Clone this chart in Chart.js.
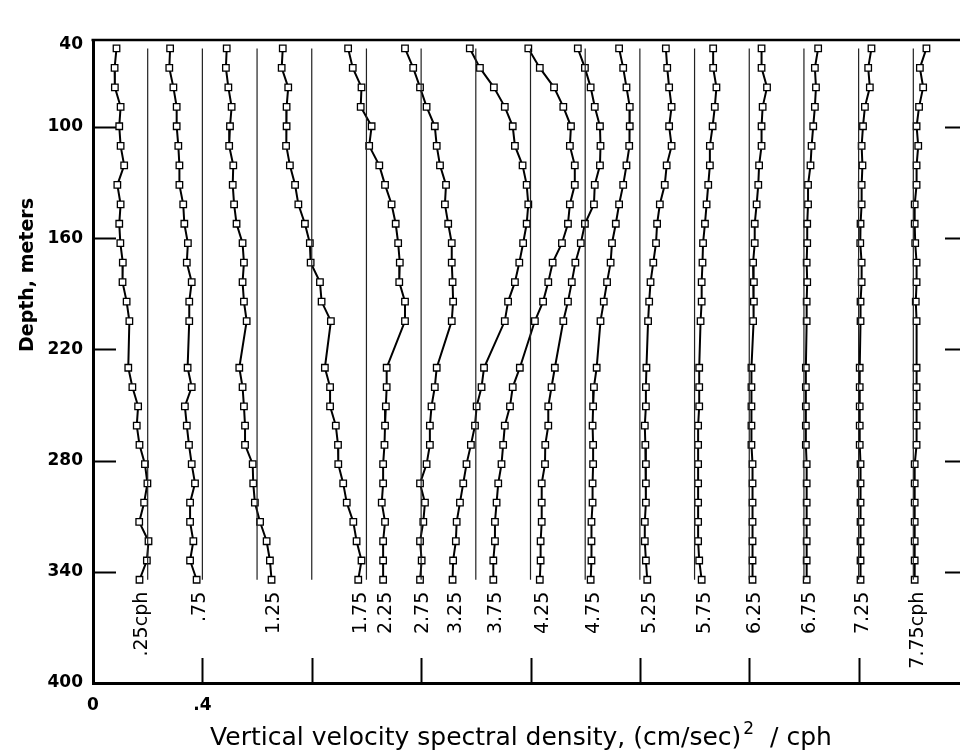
<!DOCTYPE html>
<html>
<head>
<meta charset="utf-8">
<script src="https://cdn.jsdelivr.net/npm/chart.js@4.4.1/dist/chart.umd.min.js"></script>
<style>
  html, body { margin: 0; padding: 0; background: #fff; overflow: hidden; }
  #wrap { width: 980px; height: 750px; }
</style>
</head>
<body>
<div id="wrap"><canvas id="chart" width="980" height="750"></canvas></div>
<script>
// depth of each sample (m), same for every profile
const depths = [57.6, 68.1, 78.6, 89.1, 99.6, 110.2, 120.7, 131.2, 141.7, 152.2, 162.7, 173.2, 183.7, 194.2, 204.7,
  229.9, 240.3, 250.7, 261.1, 271.5, 281.9, 292.3, 302.7, 313.1, 323.5, 333.9, 344.3];

// each profile is drawn shifted right by its own offset
const offsets = [0, 0.2, 0.4, 0.6, 0.8, 1.0, 1.2, 1.4, 1.6, 1.8, 2.0, 2.2, 2.4, 2.6, 2.8, 3.0];
const profileLabels = ['.25cph', '.75', '1.25', '1.75', '2.25', '2.75', '3.25', '3.75',
  '4.25', '4.75', '5.25', '5.75', '6.25', '6.75', '7.25', '7.75cph'];

const s025 = [0.086, 0.079, 0.080, 0.101, 0.096, 0.101, 0.114, 0.089, 0.101, 0.096, 0.100, 0.109, 0.108, 0.123, 0.133, 0.129, 0.144, 0.165, 0.160, 0.170, 0.190, 0.199, 0.187, 0.169, 0.203, 0.197, 0.170];
const s075 = [0.082, 0.079, 0.094, 0.106, 0.106, 0.112, 0.116, 0.116, 0.130, 0.134, 0.147, 0.143, 0.161, 0.152, 0.152, 0.146, 0.161, 0.136, 0.143, 0.151, 0.161, 0.173, 0.155, 0.155, 0.167, 0.155, 0.179];
const s125 = [0.089, 0.086, 0.095, 0.107, 0.101, 0.098, 0.113, 0.111, 0.116, 0.125, 0.147, 0.152, 0.147, 0.152, 0.162, 0.135, 0.147, 0.152, 0.156, 0.156, 0.184, 0.186, 0.192, 0.211, 0.235, 0.247, 0.253];
const s175 = [0.094, 0.090, 0.114, 0.108, 0.108, 0.106, 0.120, 0.139, 0.151, 0.175, 0.193, 0.196, 0.230, 0.236, 0.270, 0.248, 0.267, 0.267, 0.288, 0.296, 0.297, 0.315, 0.328, 0.352, 0.364, 0.382, 0.370];
const s225 = [0.133, 0.150, 0.182, 0.179, 0.219, 0.210, 0.247, 0.268, 0.292, 0.307, 0.316, 0.322, 0.320, 0.341, 0.341, 0.274, 0.274, 0.271, 0.268, 0.266, 0.261, 0.261, 0.256, 0.268, 0.261, 0.261, 0.261];
const s275 = [0.141, 0.171, 0.196, 0.220, 0.250, 0.257, 0.269, 0.291, 0.287, 0.299, 0.312, 0.312, 0.315, 0.317, 0.312, 0.257, 0.250, 0.238, 0.232, 0.232, 0.220, 0.196, 0.214, 0.208, 0.196, 0.202, 0.196];
const s325 = [0.178, 0.215, 0.266, 0.306, 0.335, 0.343, 0.371, 0.386, 0.392, 0.386, 0.373, 0.359, 0.343, 0.318, 0.306, 0.230, 0.221, 0.203, 0.197, 0.182, 0.166, 0.154, 0.142, 0.130, 0.127, 0.117, 0.115];
const s375 = [0.192, 0.234, 0.286, 0.320, 0.348, 0.344, 0.362, 0.362, 0.344, 0.337, 0.315, 0.281, 0.265, 0.246, 0.216, 0.161, 0.135, 0.125, 0.106, 0.100, 0.094, 0.082, 0.076, 0.070, 0.070, 0.064, 0.064];
const s425 = [0.173, 0.199, 0.220, 0.235, 0.254, 0.256, 0.254, 0.235, 0.232, 0.199, 0.184, 0.164, 0.151, 0.137, 0.120, 0.089, 0.077, 0.065, 0.065, 0.054, 0.053, 0.041, 0.041, 0.041, 0.037, 0.037, 0.034];
const s475 = [0.124, 0.139, 0.151, 0.163, 0.163, 0.161, 0.151, 0.139, 0.124, 0.112, 0.098, 0.093, 0.080, 0.068, 0.056, 0.042, 0.032, 0.029, 0.027, 0.029, 0.029, 0.027, 0.027, 0.023, 0.023, 0.023, 0.020];
const s525 = [0.095, 0.100, 0.107, 0.116, 0.107, 0.116, 0.098, 0.091, 0.073, 0.063, 0.059, 0.049, 0.039, 0.034, 0.030, 0.024, 0.022, 0.022, 0.018, 0.020, 0.022, 0.022, 0.022, 0.018, 0.018, 0.022, 0.027];
const s575 = [0.068, 0.068, 0.080, 0.074, 0.066, 0.056, 0.056, 0.050, 0.044, 0.038, 0.031, 0.029, 0.026, 0.026, 0.022, 0.017, 0.017, 0.017, 0.013, 0.013, 0.013, 0.013, 0.013, 0.013, 0.013, 0.017, 0.026];
const s625 = [0.045, 0.045, 0.065, 0.049, 0.045, 0.045, 0.036, 0.033, 0.027, 0.020, 0.020, 0.014, 0.017, 0.017, 0.014, 0.008, 0.008, 0.008, 0.008, 0.008, 0.012, 0.012, 0.012, 0.012, 0.012, 0.012, 0.012];
const s675 = [0.052, 0.040, 0.044, 0.040, 0.034, 0.028, 0.024, 0.015, 0.015, 0.012, 0.012, 0.010, 0.012, 0.010, 0.010, 0.007, 0.007, 0.007, 0.007, 0.007, 0.010, 0.010, 0.010, 0.010, 0.010, 0.010, 0.010];
const s725 = [0.047, 0.035, 0.041, 0.023, 0.016, 0.011, 0.014, 0.011, 0.011, 0.007, 0.006, 0.011, 0.011, 0.007, 0.007, 0.004, 0.004, 0.004, 0.004, 0.004, 0.007, 0.007, 0.007, 0.007, 0.007, 0.007, 0.007];
const s775 = [0.048, 0.024, 0.036, 0.021, 0.012, 0.018, 0.012, 0.012, 0.005, 0.005, 0.007, 0.012, 0.012, 0.009, 0.012, 0.012, 0.012, 0.012, 0.012, 0.012, 0.005, 0.005, 0.005, 0.005, 0.005, 0.005, 0.005];

const profiles = [s025, s075, s125, s175, s225, s275, s325, s375, s425, s475, s525, s575, s625, s675, s725, s775];

// axis ticks
const yTickValues = [55.7, 100, 160, 220, 280, 340, 400];
const yTickLabels = ['40', '100', '160', '220', '280', '340', '400'];
const yTickMarks = [100, 160, 220, 280, 340];
const xTickValues = [0, 0.4];
const xTickLabels = ['0', '.4'];
const xTickMarks = [0.4, 0.8, 1.2, 1.6, 2.0, 2.4, 2.8];

const datasets = [];

// zero line of every shifted profile
for (let i = 1; i < offsets.length; i++) {
  datasets.push({
    data: [{ x: offsets[i], y: depths[0] }, { x: offsets[i], y: depths[depths.length - 1] }],
    borderColor: '#222',
    borderWidth: 1.2,
    pointRadius: 0,
    showLine: true
  });
}

profiles.forEach((vals, i) => {
  datasets.push({
    label: profileLabels[i],
    data: vals.map((v, k) => ({ x: offsets[i] + v, y: depths[k] })),
    borderColor: '#000',
    borderWidth: 2,
    showLine: true,
    tension: 0,
    pointStyle: 'rect',
    pointRadius: 4.6,
    pointBackgroundColor: '#fff',
    pointBorderColor: '#000',
    pointBorderWidth: 1.3
  });
});

const decor = {
  id: 'decor',
  afterDraw(chart) {
    const { ctx, chartArea: a, scales: { x, y } } = chart;
    ctx.save();
    ctx.strokeStyle = '#000';
    ctx.lineWidth = 2.5;
    ctx.beginPath();
    ctx.moveTo(a.left - 1.5, a.top);
    ctx.lineTo(a.right, a.top);
    ctx.stroke();

    ctx.lineWidth = 2;
    yTickMarks.forEach(v => {
      const py = Math.round(y.getPixelForValue(v)) + 0.5;
      ctx.beginPath();
      ctx.moveTo(a.left, py); ctx.lineTo(a.left + 23, py);
      ctx.moveTo(a.right - 23, py); ctx.lineTo(a.right, py);
      ctx.stroke();
    });
    xTickMarks.forEach(v => {
      const px = Math.round(x.getPixelForValue(v)) + 0.5;
      ctx.beginPath();
      ctx.moveTo(px, a.bottom); ctx.lineTo(px, a.bottom - 25);
      ctx.stroke();
    });

    // frequency label under each profile
    ctx.fillStyle = '#000';
    ctx.font = '19px "DejaVu Sans"';
    ctx.textAlign = 'right';
    ctx.textBaseline = 'middle';
    profiles.forEach((vals, i) => {
      const k = vals.length - 1;
      const px = x.getPixelForValue(offsets[i] + vals[k]) + 3;
      const py = y.getPixelForValue(depths[k]) + 12;
      ctx.save();
      ctx.translate(px, py);
      ctx.rotate(-Math.PI / 2);
      ctx.fillText(profileLabels[i], 0, 0);
      ctx.restore();
    });

    // y title
    ctx.save();
    ctx.font = 'bold 19px "DejaVu Sans"';
    ctx.textAlign = 'center';
    ctx.translate(28, 275);
    ctx.rotate(-Math.PI / 2);
    ctx.fillText('Depth, meters', 0, 0);
    ctx.restore();

    // x title with superscript
    const main = 'Vertical velocity spectral density, (cm/sec)';
    const tail = '  / cph';
    ctx.textAlign = 'left';
    ctx.textBaseline = 'alphabetic';
    ctx.font = '25px "DejaVu Sans"';
    const w1 = ctx.measureText(main).width;
    const w3 = ctx.measureText(tail).width;
    ctx.font = '17px "DejaVu Sans"';
    const w2 = ctx.measureText('2').width;
    const total = w1 + w2 + w3 + 2;
    const sx = 521 - total / 2;
    const base = 745;
    ctx.font = '25px "DejaVu Sans"';
    ctx.fillText(main, sx, base);
    ctx.font = '17px "DejaVu Sans"';
    ctx.fillText('2', sx + w1 + 2, base - 11);
    ctx.font = '25px "DejaVu Sans"';
    ctx.fillText(tail, sx + w1 + w2 + 2, base);
    ctx.restore();
  }
};

new Chart(document.getElementById('chart'), {
  type: 'scatter',
  data: { datasets },
  options: {
    responsive: false,
    animation: false,
    devicePixelRatio: 1,
    layout: { padding: { top: 40, right: 12, left: 0, bottom: 0 } },
    plugins: { legend: { display: false }, tooltip: { enabled: false } },
    scales: {
      x: {
        type: 'linear',
        min: 0,
        max: 3.2,
        grid: { display: false, drawTicks: false },
        border: { display: true, width: 3, color: '#000' },
        afterBuildTicks: s => { s.ticks = xTickValues.map(v => ({ value: v })); },
        afterFit: s => { s.height = 67; },
        ticks: {
          padding: 12,
          color: '#000',
          font: { family: 'DejaVu Sans', size: 17, weight: 'bold' },
          callback: v => xTickLabels[xTickValues.indexOf(v)]
        }
      },
      y: {
        type: 'linear',
        reverse: true,
        min: 53.05,
        max: 400,
        grid: { display: false, drawTicks: false },
        border: { display: true, width: 3, color: '#000' },
        afterBuildTicks: s => { s.ticks = yTickValues.map(v => ({ value: v })); },
        afterFit: s => { s.width = 93; },
        ticks: {
          padding: 10,
          color: '#000',
          font: { family: 'DejaVu Sans', size: 17, weight: 'bold' },
          callback: v => yTickLabels[yTickValues.indexOf(v)]
        }
      }
    }
  },
  plugins: [decor]
});
</script>
</body>
</html>
